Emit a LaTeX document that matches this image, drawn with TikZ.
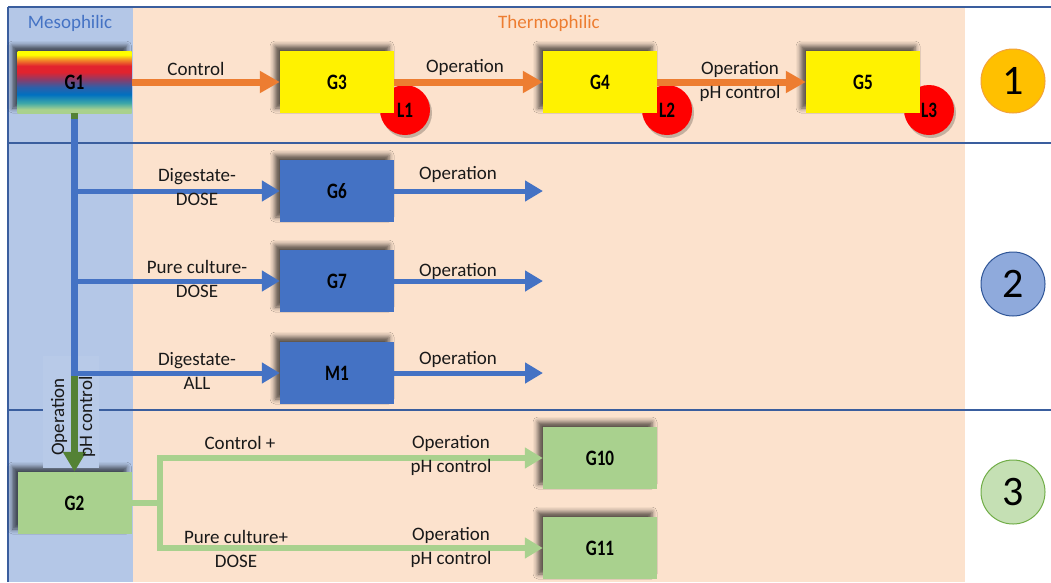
\documentclass[tikz,border=0pt]{standalone}
\usepackage{fontspec}
\setmainfont{Carlito}
\newfontfamily\gfont[FakeStretch=0.78]{Carlito}
\usetikzlibrary{arrows.meta,shadows,shadows.blur}
\definecolor{meso}{HTML}{B4C7E7}
\definecolor{mesolight}{HTML}{B8CAE8}
\definecolor{thermo}{HTML}{FCE2CD}
\definecolor{frame}{HTML}{3A5E9E}
\definecolor{oarr}{HTML}{ED7D31}
\definecolor{barr}{HTML}{4472C4}
\definecolor{garr}{HTML}{A9D18E}
\definecolor{dgarr}{HTML}{548235}
\definecolor{cg}{HTML}{A9D18E}
\definecolor{cteal}{HTML}{3FA8A8}
\definecolor{cblue}{HTML}{0070C0}
\definecolor{cblueb}{HTML}{2F5FA8}
\definecolor{cpurp}{HTML}{8A3C6A}
\definecolor{cred}{HTML}{E2232E}
\definecolor{corange}{HTML}{F28C28}
\definecolor{cyellow}{HTML}{FFFF00}
\definecolor{cone}{HTML}{FFC000}
\definecolor{coneb}{HTML}{F2A23A}
\definecolor{ctwo}{HTML}{8FAADC}
\definecolor{ctwob}{HTML}{2F5597}
\definecolor{cthree}{HTML}{C5E0B4}
\definecolor{cthreeb}{HTML}{70AD47}
\pgfdeclareverticalshading{rainbowg}{100bp}{color(0bp)=(cg); color(25bp)=(cg); color(28bp)=(cg); color(33bp)=(cteal); color(40bp)=(cblue); color(46bp)=(cblueb); color(52bp)=(cpurp); color(58bp)=(cred); color(63bp)=(cred); color(68bp)=(corange); color(72bp)=(cyellow); color(75bp)=(cyellow); color(100bp)=(cyellow)}
\begin{document}
\begin{tikzpicture}[x=1pt,y=-1pt,font=\fontsize{19}{24}\selectfont,
  gbox/.style={minimum width=114pt, minimum height=62pt, inner sep=0pt, font=\gfont\bfseries\fontsize{22}{22}\selectfont, blur shadow={shadow xshift=-5pt, shadow yshift=5pt, shadow blur radius=5pt, shadow opacity=65}},
  lcirc/.style={circle, fill=red, minimum size=50pt, inner sep=0pt, font=\gfont\bfseries\fontsize{22}{22}\selectfont, drop shadow={shadow xshift=2pt, shadow yshift=-3pt, opacity=0.22, fill=black}},
  numc/.style={circle, minimum size=64pt, inner sep=0pt, line width=1pt, font=\fontsize{42}{42}\selectfont},
  lbl/.style={align=center, text=black!90, inner sep=0pt},
  frameline/.style={draw=frame, line width=2pt},
  oarrow/.style={draw=oarr, line width=7pt, -{Triangle[length=20pt,width=21pt]}},
  barrow/.style={draw=barr, line width=5pt, -{Triangle[length=18pt,width=20pt]}},
  garrow/.style={draw=garr, line width=6pt, -{Triangle[length=18pt,width=20pt]}},
  gline/.style={draw=garr, line width=6pt},
  bline/.style={draw=barr, line width=7pt},
  dgarrow/.style={draw=dgarr, line width=7pt, -{Triangle[length=20pt,width=22pt]}}
]
\useasboundingbox (0,0) rectangle (1051,582);
\fill[white] (0,0) rectangle (1051,582);
\fill[meso] (8,7) rectangle (133,582);
\fill[thermo] (133,7) rectangle (965,582);
% frame lines
\draw[frameline] (8,7) -- (1051,7);
\draw[frameline] (8,7) -- (8,582);
\draw[frameline] (8,143) -- (1051,143);
\draw[frameline] (8,410) -- (1051,410);
% headers
\node[inner sep=0pt, text=barr] (hmeso) at (70,23) {Mesophilic};
\node[inner sep=0pt, text=oarr] (hthermo) at (549,23) {Thermophilic};
% L circles
\node[lcirc] (L1) at (405,110) {L1};
\node[lcirc] (L2) at (667,110) {L2};
\node[lcirc] (L3) at (929,110) {L3};
% boxes
\node[gbox, shade, shading=rainbowg] (G1) at (74.5,82) {G1};
\node[gbox, fill=yellow] (G3) at (337,82) {G3};
\node[gbox, fill=yellow] (G4) at (600,82) {G4};
\node[gbox, fill=yellow] (G5) at (863,82) {G5};
\node[gbox, fill=barr] (G6) at (337,191) {G6};
\node[gbox, fill=barr] (G7) at (337,281) {G7};
\node[gbox, fill=barr] (M1) at (337,373) {M1};
\node[gbox, fill=garr] (G2) at (74.5,503) {G2};
\node[gbox, fill=garr] (G10) at (600,458) {G10};
\node[gbox, fill=garr] (G11) at (600,548) {G11};
% row 1 arrows
\draw[oarrow] (G1.east) -- (G3.west);
\draw[oarrow] (G3.east) -- (G4.west);
\draw[oarrow] (G4.east) -- (G5.west);
\node[lbl] (t1) at (196,69) {Control};
\node[lbl] (t2) at (465,67) {Operation};
\node[lbl] (t3) at (740,81) {Operation\\pH control};
% vertical label background
\node[fill=mesolight, minimum width=56pt, minimum height=112pt, inner sep=0pt] (vbg) at (71,412) {};
% green down arrow and blue trunk
\draw[dgarrow] (G1.south) -- (G2.north);
\coordinate (btop) at (74.5,119);
\coordinate (b1) at (72,191);
\coordinate (b2) at (72,281);
\coordinate (b3) at (72,373);
\coordinate (bbot) at (74.5,375.5);
\draw[bline] (btop) -- (bbot);
\draw[barrow] (b1) -- (G6.west);
\draw[barrow] (b2) -- (G7.west);
\draw[barrow] (b3) -- (M1.west);
\coordinate (o6) at (543,191);
\coordinate (o7) at (543,281);
\coordinate (o8) at (543,373);
\draw[barrow] (G6.east) -- (o6);
\draw[barrow] (G7.east) -- (o7);
\draw[barrow] (M1.east) -- (o8);
\node[lbl] (t4) at (197,187) {Digestate-\\DOSE};
\node[lbl] (t5) at (197,279) {Pure culture-\\DOSE};
\node[lbl] (t6) at (197,371) {Digestate-\\ALL};
\node[lbl] (t7) at (458,174) {Operation};
\node[lbl] (t8) at (458,271) {Operation};
\node[lbl] (t9) at (458,359) {Operation};
\node[lbl, rotate=90] (vl) at (73,417) {Operation\\[4pt]pH control};
% green branch
\coordinate (j) at (160,503);
\draw[gline] (G2.east) -- (j);
\draw[garrow] (j) |- (G10.west);
\draw[garrow] (j) |- (G11.west);
\node[lbl] (t10) at (240,443) {Control +};
\node[lbl] (t11) at (451,455) {Operation\\pH control};
\node[lbl] (t12) at (236,549) {Pure culture+\\DOSE};
\node[lbl] (t13) at (451,547) {Operation\\pH control};
% numbered circles
\node[numc, fill=cone, draw=coneb] (n1) at (1013,81) {1};
\node[numc, fill=ctwo, draw=ctwob] (n2) at (1013,284) {2};
\node[numc, fill=cthree, draw=cthreeb] (n3) at (1013,492) {3};
\end{tikzpicture}
\end{document}
